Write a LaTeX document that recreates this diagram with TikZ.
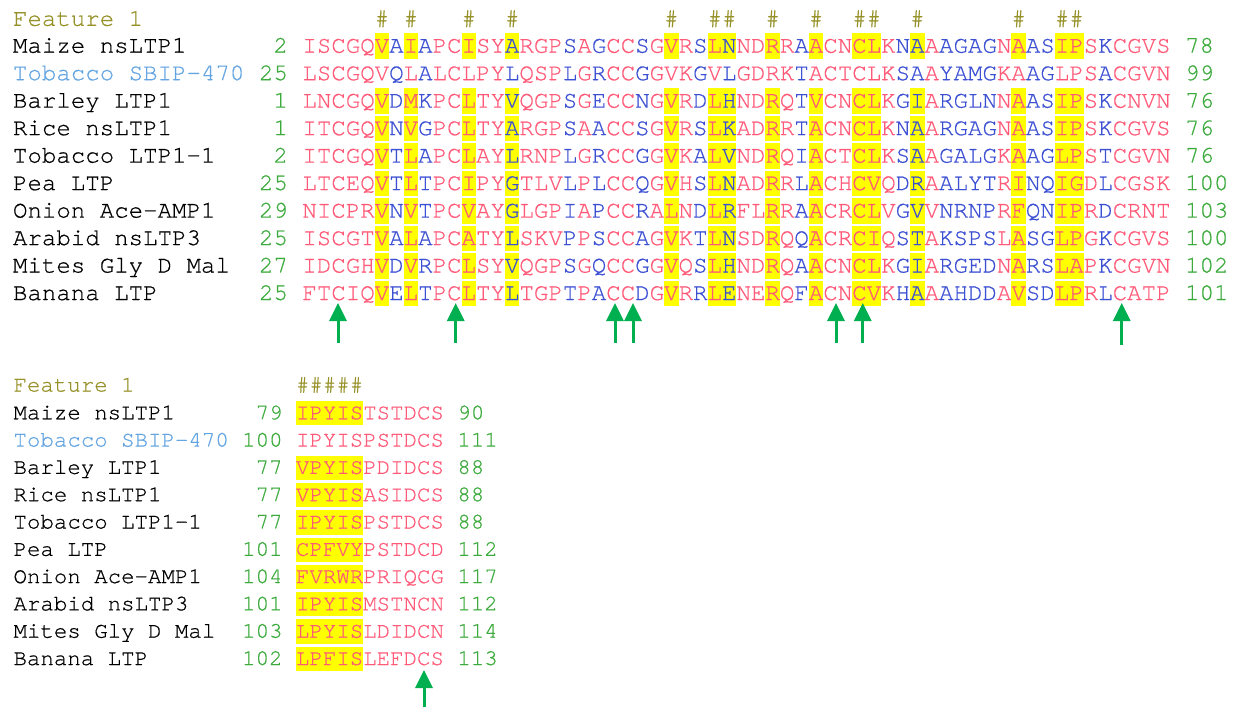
\documentclass[tikz,border=0pt]{standalone}
\usepackage{fontspec}
\usetikzlibrary{arrows.meta}
\newfontfamily\seqmono[FakeBold=0.6]{texgyrecursor-regular.otf}
\definecolor{seqred}{RGB}{255,90,120}
\definecolor{seqblue}{RGB}{60,80,210}
\definecolor{numgreen}{RGB}{60,170,60}
\definecolor{featolive}{RGB}{150,145,40}
\definecolor{labblue}{RGB}{100,165,225}
\definecolor{arrowgreen}{RGB}{0,176,80}
\definecolor{hlyellow}{RGB}{255,255,0}

\newcount\seqcol
\def\seqloop#1{\ifx\relax#1\expandafter\seqstop\else\expandafter\seqdo\fi#1}
\def\seqstop#1{}
\def\seqdo#1{\seqletter{#1}\global\advance\seqcol by 1 \seqloop}

\newcommand\seqletter[1]{%
  \edef\nm{b\blk r\currow c\the\seqcol}%
  \def\lcol{seqred}%
  \ifnum\blk=1 \ifcsname isblue\the\seqcol\endcsname\def\lcol{seqblue}\fi\fi
  \def\lfill{none}%
  \ifnum\curhl=1 \ifcsname ishl\blk-\the\seqcol\endcsname\def\lfill{hlyellow}\fi\fi
  \pgfmathsetmacro\lx{\xo+\the\seqcol*\pitch}%
  \node[seqchar, text=\lcol, fill=\lfill] (\nm) at (\lx,\rowy) {#1};%
}

% #1 row, #2 label, #3 label colour, #4 start, #5 sequence, #6 end, #7 highlight
\newcommand\seqline[7]{%
  \def\currow{#1}\def\curhl{#7}%
  \pgfmathsetmacro\rowy{-\yo-(#1-1)*\rowp}%
  \pgfmathsetmacro\labx{\xo-\labcols*\pitch}%
  \pgfmathsetmacro\startx{\xo-\pitch}%
  \node[txt, text=#3] (b\blk lab#1) at (\labx,\rowy) {#2};%
  \node[txt, text=numgreen, anchor=base east] (b\blk start#1) at (\startx,\rowy) {#4};%
  \global\seqcol=0 \seqloop#5\relax
  \pgfmathsetmacro\endx{\xo+(\the\seqcol+1)*\pitch}%
  \node[txt, text=numgreen] (b\blk end#1) at (\endx,\rowy) {#6};%
}

\begin{document}
\begin{tikzpicture}[x=1pt,y=1pt,
  txt/.style={anchor=base west, inner sep=0pt, outer sep=0pt, font=\blockfont},
  seqchar/.style={txt, text height=\hlh, text depth=\hld},
  featmark/.style={txt, text=featolive},
  arr/.style={draw=arrowgreen, line width=3pt, -{Triangle[width=17pt,length=18pt]}}]
\useasboundingbox (0,0) rectangle (1242,-707);

\foreach \k in {5,7,11,14,25,28,29,32,35,38,39,42,49,52,53}
  {\expandafter\gdef\csname ishl1-\k\endcsname{}}
\foreach \k in {0,1,2,3,4}
  {\expandafter\gdef\csname ishl2-\k\endcsname{}}
\foreach \k in {6,8,14,18,20,23,27,29,34,41,42,44,45,46,47,50,51,55}
  {\expandafter\gdef\csname isblue\k\endcsname{}}

% ---------------- block 1 ----------------
\def\blk{1}\def\xo{302.4}\def\pitch{14.47}\def\yo{52.7}\def\rowp{27.48}
\def\labcols{20}\def\hlh{19.5pt}\def\hld{6pt}
\def\blockfont{\seqmono\fontsize{24.1}{29}\selectfont}

\node[featmark] (b1feat) at ({\xo-20*\pitch},-25.8) {Feature 1};
\foreach \k in {5,7,11,14,25,28,29,32,35,38,39,42,49,52,53}
  {\node[featmark] (b1hash\k) at ({\xo+\k*\pitch},-25.8) {\#};}

\seqline{1}{Maize nsLTP1}{black}{2}{ISCGQVAIAPCISYARGPSAGCCSGVRSLNNDRRAACNCLKNAAAGAGNAASIPSKCGVS}{78}{1}
\seqline{2}{Tobacco SBIP-470}{labblue}{25}{LSCGQVQLALCLPYLQSPLGRCCGGVKGVLGDRKTACTCLKSAAYAMGKAAGLPSACGVN}{99}{0}
\seqline{3}{Barley LTP1}{black}{1}{LNCGQVDMKPCLTYVQGPSGECCNGVRDLHNDRQTVCNCLKGIARGLNNAASIPSKCNVN}{76}{1}
\seqline{4}{Rice nsLTP1}{black}{1}{ITCGQVNVGPCLTYARGPSAACCSGVRSLKADRRTACNCLKNAARGAGNAASIPSKCGVS}{76}{1}
\seqline{5}{Tobacco LTP1-1}{black}{2}{ITCGQVTLAPCLAYLRNPLGRCCGGVKALVNDRQIACTCLKSAAGALGKAAGLPSTCGVN}{76}{1}
\seqline{6}{Pea LTP}{black}{25}{LTCEQVTLTPCIPYGTLVLPLCCQGVHSLNADRRLACHCVQDRAALYTRINQIGDLCGSK}{100}{1}
\seqline{7}{Onion Ace-AMP1}{black}{29}{NICPRVNVTPCVAYGLGPIAPCCRALNDLRFLRRAACRCLVGVVNRNPRFQNIPRDCRNT}{103}{1}
\seqline{8}{Arabid nsLTP3}{black}{25}{ISCGTVALAPCATYLSKVPPSCCAGVKTLNSDRQQACRCIQSTAKSPSLASGLPGKCGVS}{100}{1}
\seqline{9}{Mites Gly D Mal}{black}{27}{IDCGHVDVRPCLSYVQGPSGQCCGGVQSLHNDRQAACNCLKGIARGEDNARSLAPKCGVN}{102}{1}
\seqline{10}{Banana LTP}{black}{25}{FTCIQVELTPCLTYLTGPTPACCDGVRRLENERQFACNCVKHAAAHDDAVSDLPRLCATP}{101}{1}

% arrows block 1
\coordinate (t1) at (338,-303);   \coordinate (s1) at (338,-343);
\coordinate (t2) at (455.7,-303); \coordinate (s2) at (455.7,-343);
\coordinate (t3) at (615,-303);   \coordinate (s3) at (615,-343);
\coordinate (t4) at (633,-303);   \coordinate (s4) at (633,-343);
\coordinate (t5) at (836,-303);   \coordinate (s5) at (836,-343);
\coordinate (t6) at (862.7,-303); \coordinate (s6) at (862.7,-343);
\coordinate (t7) at (1121.7,-303);\coordinate (s7) at (1121.7,-345);
\foreach \a in {1,...,7} {\draw[arr] (s\a) -- (t\a);}

% ---------------- block 2 ----------------
\def\blk{2}\def\xo{296}\def\pitch{13.45}\def\yo{419.3}\def\rowp{27.3}
\def\labcols{21}\def\hlh{18.3pt}\def\hld{6pt}
\def\blockfont{\seqmono\fontsize{22.42}{27}\selectfont}

\node[featmark] (b2feat) at ({\xo-21*\pitch},-391.5) {Feature 1};
\node[featmark] (b2hash) at (\xo,-391.5) {\#\#\#\#\#};

\seqline{1}{Maize nsLTP1}{black}{79}{IPYISTSTDCS}{90}{1}
\seqline{2}{Tobacco SBIP-470}{labblue}{100}{IPYISPSTDCS}{111}{0}
\seqline{3}{Barley LTP1}{black}{77}{VPYISPDIDCS}{88}{1}
\seqline{4}{Rice nsLTP1}{black}{77}{VPYISASIDCS}{88}{1}
\seqline{5}{Tobacco LTP1-1}{black}{77}{IPYISPSTDCS}{88}{1}
\seqline{6}{Pea LTP}{black}{101}{CPFVYPSTDCD}{112}{1}
\seqline{7}{Onion Ace-AMP1}{black}{104}{FVRWRPRIQCG}{117}{1}
\seqline{8}{Arabid nsLTP3}{black}{101}{IPYISMSTNCN}{112}{1}
\seqline{9}{Mites Gly D Mal}{black}{103}{LPYISLDIDCN}{114}{1}
\seqline{10}{Banana LTP}{black}{102}{LPFISLEFDCS}{113}{1}

\coordinate (t8) at (424,-670); \coordinate (s8) at (424,-707);
\draw[arr] (s8) -- (t8);
\end{tikzpicture}
\end{document}
